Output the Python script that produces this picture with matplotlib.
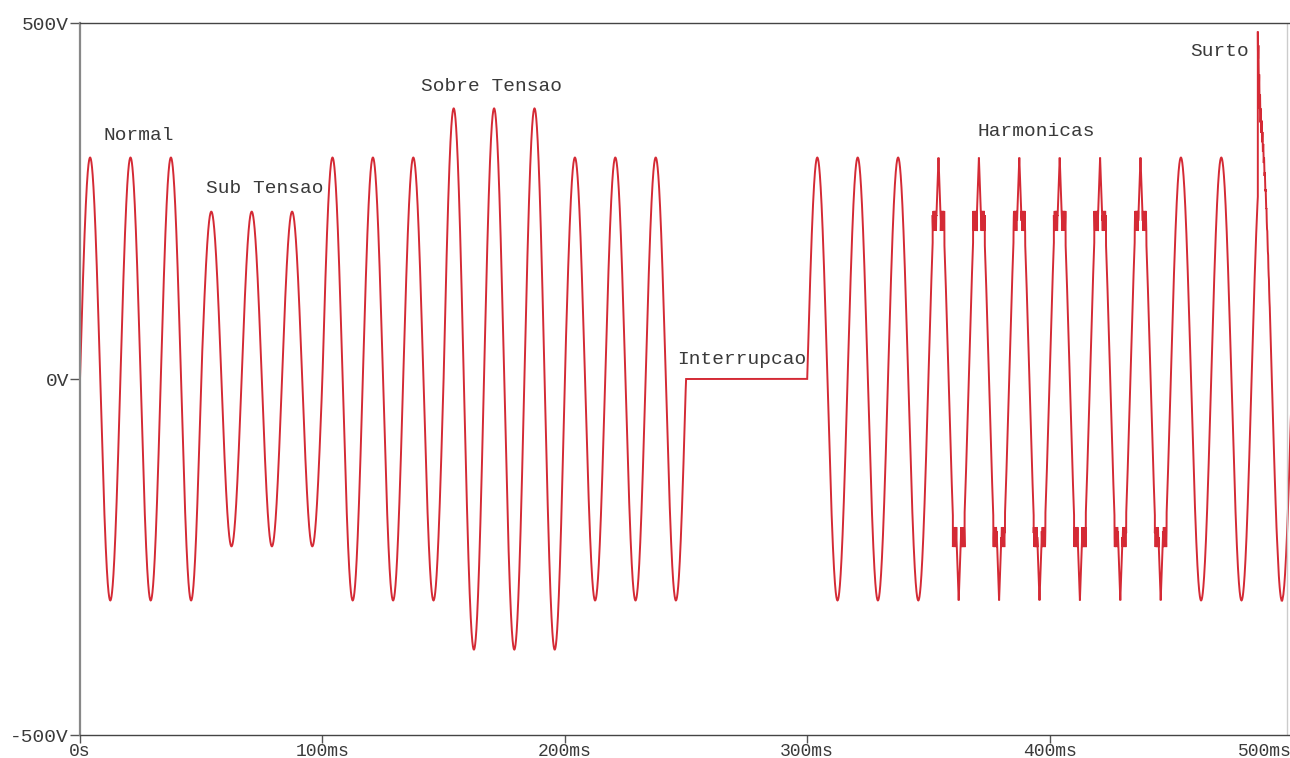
import numpy as np
import matplotlib
matplotlib.use("Agg")
import matplotlib.pyplot as plt

# ---- waveform description -------------------------------------------------
freq_hz = 60.0
seg_start_ms = [0, 50, 100, 150, 200, 250, 300, 350, 450]
seg_end_ms = [50, 100, 150, 200, 250, 300, 350, 450, 500]
seg_peak_v = [311, 235, 311, 380, 311, 0, 311, 311, 311]
seg_harmonic = [False, False, False, False, False, False, False, True, False]

# harmonic distortion: clipped shoulder level, burst amplitude
harm_shoulder_v = 222
harm_burst_v = 14
# surge event
surge_time_ms = 485.9
surge_peak_v = 488

# annotations: text, time (ms), voltage
label_text = ["Normal", "Sub Tensao", "Sobre Tensao", "Interrupcao", "Harmonicas", "Surto"]
label_t_ms = [9.5, 52.0, 140.6, 246.2, 370.3, 458.1]
label_v = [342, 267, 411, 28, 347, 460]

y_ticks_v = [-500, 0, 500]
y_tick_labels = ["-500V", "0V", "500V"]
x_ticks_ms = [0, 100, 200, 300, 400, 500]
x_tick_labels = ["0s", "100ms", "200ms", "300ms", "400ms", "500ms"]

# ---- build the signal -------------------------------------------------------
t = np.linspace(0, 0.5, 400001)
w = 2 * np.pi * freq_hz
s = np.sin(w * t)
v = np.zeros_like(t)
for t0, t1, amp, harm in zip(seg_start_ms, seg_end_ms, seg_peak_v, seg_harmonic):
    m = (t >= t0 / 1000) & (t < t1 / 1000)
    seg = amp * s[m]
    if harm:
        # distance from the nearest crest in degrees
        ph = np.degrees(np.mod(w * t[m], np.pi))
        psi = np.abs(ph - 90)
        sign = np.sign(s[m])
        spike = psi < 20
        shoulder = (psi >= 20) & (psi < 52)
        burst = harm_burst_v * np.sin(2 * np.pi * 2500 * t[m])
        seg = np.where(shoulder, sign * (harm_shoulder_v + burst), seg)
        seg = np.where(spike, sign * (harm_shoulder_v + (amp - harm_shoulder_v) * (1 - psi / 20)), seg)
    v[m] = seg

# surge: fast pulse plus a short ringing
ts = surge_time_ms / 1000
after = t >= ts
dt = t[after] - ts
base_at_surge = seg_peak_v[-1] * np.sin(w * ts)
v[after] += (surge_peak_v - base_at_surge) * np.exp(-dt / 0.0009)
v[after] -= 22 * np.sin(2 * np.pi * 3000 * dt) * np.exp(-dt / 0.0025)

# ---- figure -----------------------------------------------------------------
plt.rcParams["axes.unicode_minus"] = False
mono = ["Liberation Mono", "DejaVu Sans Mono"]
txt_color = "#3a3a3a"
fsize = 14

fig = plt.figure(figsize=(12.9, 7.58), dpi=100)
ax = fig.add_axes([80 / 1290, 1 - 735 / 758, 1212 / 1290, 712 / 758])

ax.plot(t * 1000, v, color="#d42a35", linewidth=1.4, solid_joinstyle="miter")

ax.set_xlim(0, 500)
ax.set_ylim(-500, 500)

ax.set_yticks(y_ticks_v)
ax.set_yticklabels(y_tick_labels, family=mono, fontsize=fsize, color=txt_color)
ax.set_xticks(x_ticks_ms)
ax.set_xticklabels(x_tick_labels, family=mono, fontsize=13, color=txt_color)
ax.get_xticklabels()[-1].set_horizontalalignment("right")

ax.tick_params(axis="y", direction="out", length=7, width=1, color="#555555", pad=1)
ax.tick_params(axis="x", direction="out", length=6, width=1, color="#555555", pad=0)

for side in ("top", "bottom"):
    ax.spines[side].set_color("#444444")
    ax.spines[side].set_linewidth(1.0)
ax.spines["left"].set_color("#888888")
ax.spines["left"].set_linewidth(1.6)
ax.spines["right"].set_visible(False)
ax.axvline(497.9, color="#cccccc", linewidth=1.0)

for txt, tx, vy in zip(label_text, label_t_ms, label_v):
    ax.text(tx, vy, txt, family=mono, fontsize=fsize, color=txt_color,
            ha="left", va="center")

fig.savefig("out.png", dpi=100)
